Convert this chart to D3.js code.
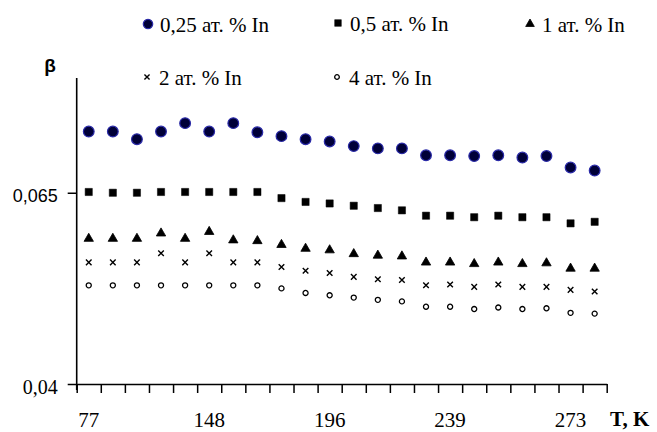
<!DOCTYPE html>
<html>
<head>
<meta charset="utf-8">
<script src="https://cdn.jsdelivr.net/npm/d3@7/dist/d3.min.js"></script>
<style>
  html, body { margin: 0; padding: 0; background: #fff; }
  svg { display: block; }
</style>
</head>
<body>
<svg id="chart" width="657" height="432"></svg>
<script>
// β versus temperature for five In concentrations (22 measurement points each)
const seriesNames = ["0,25 ат. % In", "0,5 ат. % In", "1 ат. % In", "2 ат. % In", "4 ат. % In"];

const beta025 = [0.0730,0.0730,0.0720,0.0730,0.0741,0.0730,0.0741,0.0729,0.0724,0.0720,0.0717,
                 0.0711,0.0708,0.0708,0.0699,0.0699,0.0698,0.0699,0.0696,0.0698,0.0683,0.0679];
const beta05  = [0.0651,0.0650,0.0650,0.0651,0.0651,0.0651,0.0651,0.0651,0.0643,0.0638,0.0636,
                 0.0633,0.0630,0.0627,0.0620,0.0620,0.0618,0.0620,0.0618,0.0618,0.0610,0.0612];
const beta1   = [0.0590,0.0590,0.0590,0.0597,0.0590,0.0599,0.0588,0.0587,0.0582,0.0577,0.0575,
                 0.0570,0.0568,0.0567,0.0559,0.0559,0.0557,0.0559,0.0557,0.0558,0.0551,0.0551];
const beta2   = [0.0559,0.0559,0.0559,0.0571,0.0559,0.0571,0.0559,0.0559,0.0553,0.0548,0.0545,
                 0.0540,0.0537,0.0536,0.0529,0.0530,0.0527,0.0530,0.0527,0.0527,0.0523,0.0521];
const beta4   = [0.0529,0.0529,0.0529,0.0529,0.0529,0.0529,0.0529,0.0529,0.0525,0.0519,0.0516,
                 0.0513,0.0510,0.0508,0.0501,0.0501,0.0498,0.0500,0.0498,0.0499,0.0493,0.0492];

// temperature labels shown under every fifth measurement point
const tempLabelIndex = [0, 5, 10, 15, 20];
const tempLabels = ["77", "148", "196", "239", "273"];

const yTicks = [0.04, 0.065];
const yDomain = [0.04, 0.08];

const svg = d3.select("#chart");
const nPoints = beta025.length;

const plotLeft = 76.7, plotRight = 606.7, plotBottom = 384, plotTop = 78;

const x = d3.scaleBand().domain(d3.range(nPoints)).range([plotLeft, plotRight]);
const xEdges = d3.scaleLinear().domain([0, nPoints]).range([plotLeft, plotRight]);
const y = d3.scaleLinear().domain(yDomain).range([plotBottom, plotTop]);

const serif = "'Liberation Serif', 'Times New Roman', serif";
const sans = "'Liberation Sans', Arial, sans-serif";

// marker styles per series
const markers = [
  { type: d3.symbolCircle,   size: 90, fill: "#000038", stroke: "#2a2aa8", sw: 1.2 },
  { type: d3.symbolSquare,   size: 52, fill: "#000",    stroke: "#000",    sw: 0.5 },
  { type: d3.symbolTriangle, size: 38, fill: "#000",    stroke: "#000",    sw: 0.8 },
  { type: d3.symbolX,        size: 22, fill: "none",    stroke: "#000",    sw: 1.4 },
  { type: d3.symbolCircle,   size: 20, fill: "#fff",    stroke: "#000",    sw: 1.3 }
];
const seriesData = [beta025, beta05, beta1, beta2, beta4];

// y axis
const yAxis = svg.append("g")
  .attr("transform", `translate(${plotLeft},0)`)
  .call(d3.axisLeft(y).tickValues(yTicks).tickSize(9).tickSizeOuter(0)
    .tickFormat(d => d3.format(".3~f")(d).replace(".", ",")));
yAxis.select(".domain").attr("stroke", "#000").attr("stroke-width", 1.6)
  .attr("d", `M0,${plotTop}V${plotBottom + 6}`);
yAxis.selectAll(".tick line").attr("stroke", "#000").attr("stroke-width", 1.5);
yAxis.selectAll(".tick text")
  .attr("fill", "#000")
  .attr("x", -19)
  .attr("dy", d => d === 0.04 ? "0.45em" : "0.5em")
  .style("font-family", d => d === 0.04 ? serif : sans)
  .style("font-size", d => d === 0.04 ? "20px" : "18px");

// x axis: line with tick marks between measurement points
const xTicks = svg.append("g")
  .attr("transform", `translate(0,${plotBottom})`)
  .call(d3.axisBottom(xEdges).tickValues(d3.range(nPoints + 1)).tickFormat("").tickSize(9).tickSizeOuter(0));
xTicks.select(".domain").attr("stroke", "#000").attr("stroke-width", 1.6);
xTicks.selectAll(".tick line").attr("stroke", "#000").attr("stroke-width", 1.5);

// x labels
const xLabels = svg.append("g")
  .attr("transform", `translate(0,${plotBottom})`)
  .call(d3.axisBottom(x).tickValues(tempLabelIndex)
    .tickFormat(i => tempLabels[tempLabelIndex.indexOf(i)]).tickSize(0).tickPadding(28));
xLabels.select(".domain").remove();
xLabels.selectAll(".tick text").attr("fill", "#000")
  .style("font-family", serif).style("font-size", "21px");

// axis titles
svg.append("text").attr("x", 50).attr("y", 72).attr("text-anchor", "middle")
  .style("font-family", sans).style("font-weight", "bold").style("font-size", "19px")
  .text("β");
svg.append("text").attr("x", 610).attr("y", 426)
  .style("font-family", serif).style("font-weight", "bold").style("font-size", "21px")
  .text("T, K");

// data points
seriesData.forEach((vals, s) => {
  const m = markers[s];
  svg.append("g").selectAll("path").data(vals).join("path")
    .attr("transform", (d, i) => `translate(${x(i) + x.bandwidth() / 2},${y(d)})`)
    .attr("d", d3.symbol(m.type, m.size))
    .attr("fill", m.fill).attr("stroke", m.stroke).attr("stroke-width", m.sw);
});

// legend
const legendPos = [[148, 24], [338, 23], [530, 24], [147, 77], [337, 77]];
seriesNames.forEach((name, s) => {
  const m = markers[s];
  const [lx, ly] = legendPos[s];
  const g = svg.append("g");
  g.append("path")
    .attr("transform", `translate(${lx},${ly})`)
    .attr("d", d3.symbol(m.type, s === 0 ? 70 : m.size * 0.85))
    .attr("fill", m.fill).attr("stroke", m.stroke).attr("stroke-width", m.sw);
  g.append("text").attr("x", lx + 12).attr("y", ly + 8)
    .style("font-family", serif).style("font-size", "21px").attr("fill", "#000")
    .text(name);
});
</script>
</body>
</html>
